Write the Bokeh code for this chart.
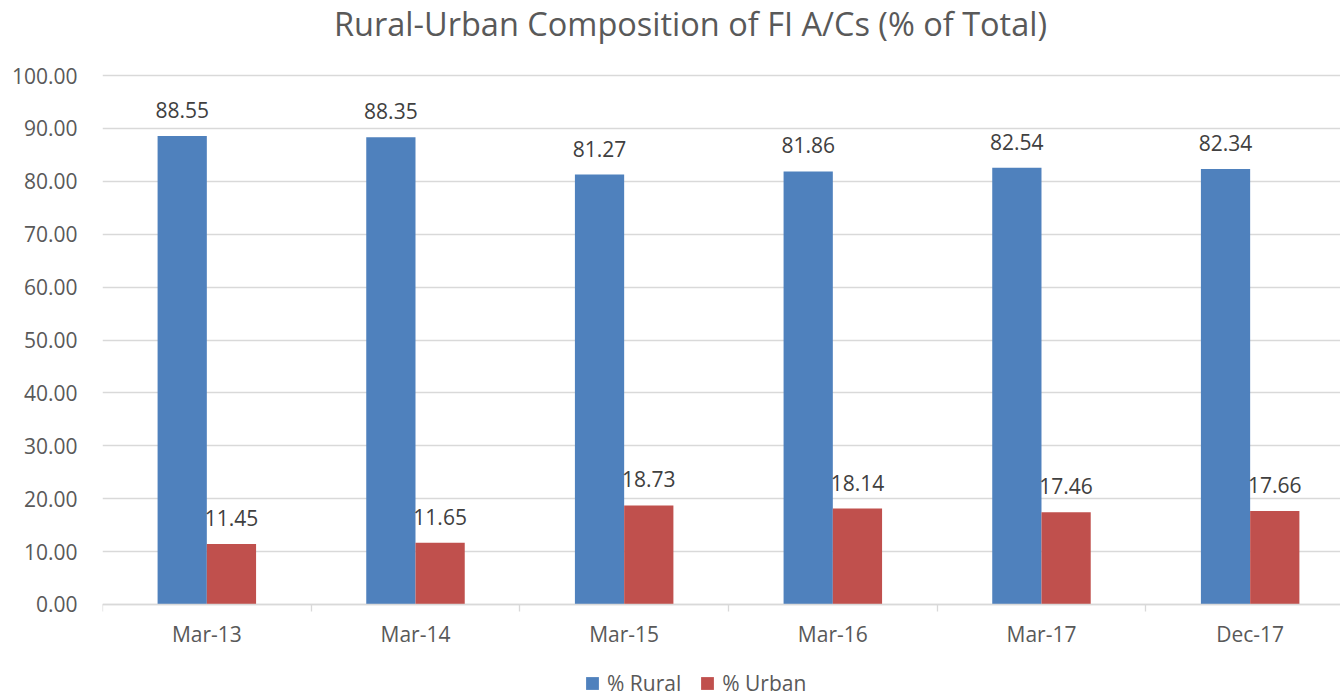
from bokeh.plotting import figure
from bokeh.models import (ColumnDataSource, Range1d, FixedTicker, NumeralTickFormatter,
                          LabelSet, Label, Legend, LegendItem)
from bokeh.core.properties import value
from bokeh.embed import file_html
from bokeh.resources import INLINE
import numpy as np

categories = ["Mar-13", "Mar-14", "Mar-15", "Mar-16", "Mar-17", "Dec-17"]
rural = [88.55, 88.35, 81.27, 81.86, 82.54, 82.34]
urban = [11.45, 11.65, 18.73, 18.14, 17.46, 17.66]
y_ticks = [0, 10, 20, 30, 40, 50, 60, 70, 80, 90, 100]
title_text = "Rural-Urban Composition of FI A/Cs (% of Total)"

FONT = "Open Sans"
BLUE = "#4F81BD"
RED = "#C0504D"
GRID = "#D9D9D9"

centers = np.arange(len(categories)) + 0.5
bw = 0.236
src = ColumnDataSource(dict(
    xr=centers - bw / 2, xu=centers + bw / 2,
    rural=rural, urban=urban,
    rl=[f"{v:.2f}" for v in rural], ul=[f"{v:.2f}" for v in urban],
))

# the frame fills the full canvas height so that title and legend sit inside it;
# the x axis is pinned at y = 0
p = figure(width=1340, height=698, output_backend="svg", toolbar_location=None,
           x_range=Range1d(0, 5.933), y_range=Range1d(-17.77, 114.18),
           min_border_left=102, min_border_right=0, min_border_top=0, min_border_bottom=0)
p.outline_line_color = None
p.background_fill_color = "white"

p.add_layout(Label(x=588, y=675, x_units="screen", y_units="screen", text=title_text,
                   text_align="center", text_baseline="alphabetic", text_font=FONT,
                   text_font_size="32.5px", text_color="#595959"))

rb = p.vbar(x="xr", top="rural", width=bw, source=src, color=BLUE, line_color=None)
ub = p.vbar(x="xu", top="urban", width=bw, source=src, color=RED, line_color=None)

for col, xcol, lcol in (("rural", "xr", "rl"), ("urban", "xu", "ul")):
    p.add_layout(LabelSet(x=xcol, y=col, text=lcol, source=src, text_align="center",
                          text_baseline="alphabetic", y_offset=18, text_font=value(FONT),
                          text_font_size="21px", text_color="#404040"))

# y axis
p.yaxis.ticker = FixedTicker(ticks=y_ticks)
p.yaxis.formatter = NumeralTickFormatter(format="0.00")
p.yaxis.axis_line_color = None
p.yaxis.major_tick_line_color = None
p.yaxis.minor_tick_line_color = None
p.yaxis.major_tick_out = 0
p.yaxis.minor_tick_out = 0
p.yaxis.major_label_standoff = 25
p.yaxis.major_label_text_font = FONT
p.yaxis.major_label_text_font_size = "21px"
p.yaxis.major_label_text_color = "#595959"
p.ygrid.grid_line_color = GRID
p.ygrid.grid_line_width = 1.3
p.ygrid.ticker = FixedTicker(ticks=y_ticks)

# x axis
p.xaxis.fixed_location = 0
p.xaxis.ticker = FixedTicker(ticks=list(centers), minor_ticks=list(range(len(categories) + 1)))
p.xaxis.major_label_overrides = {float(c): lab for c, lab in zip(centers, categories)}
p.xaxis.axis_line_color = GRID
p.xaxis.axis_line_width = 1.3
p.xaxis.major_tick_line_color = None
p.xaxis.major_tick_out = 0
p.xaxis.major_tick_in = 0
p.xaxis.minor_tick_line_color = GRID
p.xaxis.minor_tick_line_width = 1.3
p.xaxis.minor_tick_out = 7
p.xaxis.minor_tick_in = 0
p.xaxis.major_label_standoff = 9
p.xaxis.major_label_text_font = FONT
p.xaxis.major_label_text_font_size = "21px"
p.xaxis.major_label_text_color = "#595959"
p.xgrid.grid_line_color = None

legend = Legend(items=[LegendItem(label="% Rural", renderers=[rb]),
                       LegendItem(label="% Urban", renderers=[ub])],
                orientation="horizontal", location=(482, 1),
                glyph_width=16, glyph_height=16, label_text_font=FONT,
                label_text_font_size="21px", label_text_color="#595959",
                spacing=18, padding=0, margin=0, border_line_color=None,
                background_fill_alpha=0, label_standoff=7)
p.add_layout(legend)

open("out.html", "w").write(file_html(p, INLINE))
